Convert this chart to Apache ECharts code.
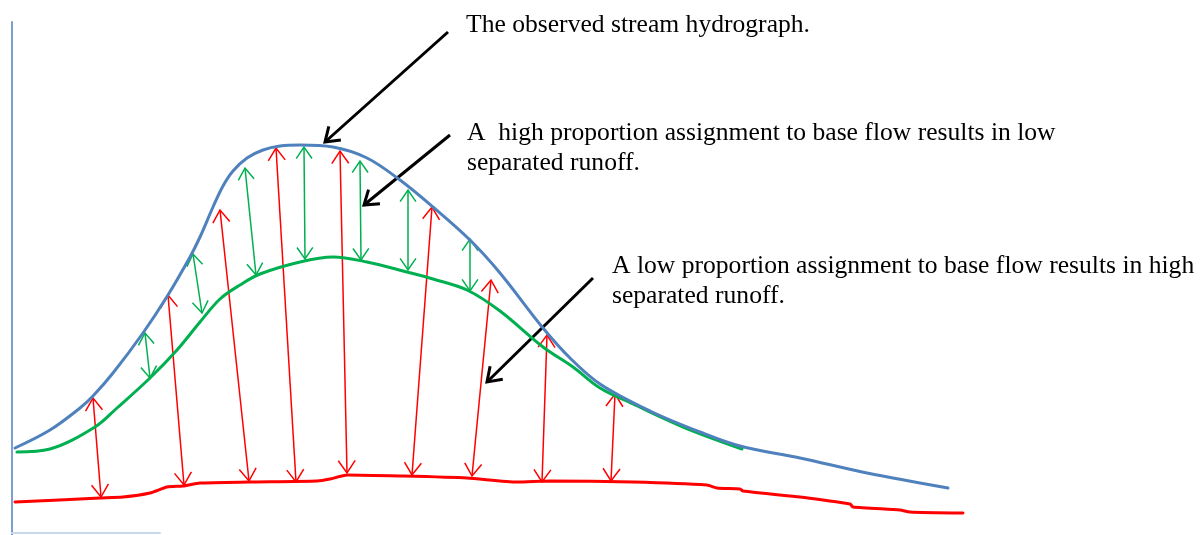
<!DOCTYPE html>
<html>
<head>
<meta charset="utf-8">
<script src="https://cdn.jsdelivr.net/npm/echarts@6/dist/echarts.min.js"></script>
<style>
  html, body { margin: 0; padding: 0; background: #fff; }
  #chart { width: 1202px; height: 535px; }
</style>
</head>
<body>
<div id="chart"></div>
<script>
// sketch coordinates (x to the right, y downwards, in the drawing's own units)
const observed = [
  [15, 448], [50, 430], [80, 408], [93, 396], [113, 373], [143, 333], [168, 295], [190, 257],
  [200, 237], [213, 207], [223, 186], [233, 171], [247, 158], [263, 150], [280, 146], [300, 145],
  [333, 147], [367, 158], [400, 180], [433, 207], [470, 240], [500, 273], [543, 328], [570, 358],
  [600, 384], [650, 411], [700, 432], [740, 446], [800, 458], [867, 473], [948, 488]
];
const lowBase = [
  [17, 452], [50, 449], [95, 427], [117, 408], [150, 378], [177, 350], [200, 322], [220, 299],
  [240, 285], [260, 274], [300, 262], [333, 257], [367, 262], [407, 272], [433, 279], [467, 290],
  [500, 311], [543, 347], [573, 367], [600, 388], [633, 404], [683, 427], [742, 449]
];
const highBase = [
  [15, 502], [100, 498], [123, 497], [150, 493], [167, 487], [183, 486], [200, 483], [250, 482],
  [317, 481], [330, 479], [347, 475], [400, 476], [467, 478], [517, 482], [550, 481], [633, 482],
  [707, 485], [717, 488], [740, 489], [743, 491], [800, 497], [823, 500], [850, 504], [853, 507],
  [900, 510], [910, 512], [963, 513]
];
// double arrows: [xBottom, yBottom, xTop, yTop]
const runoffArrows = [
  [101, 497, 93, 398], [184, 485, 168, 295], [249, 481, 220, 210], [296, 482, 276, 148],
  [347, 473, 340, 151], [412, 475, 432, 207], [472, 476, 491, 280], [542, 482, 547, 335],
  [611, 481, 615, 394]
];
const smallArrows = [
  [150, 378, 145, 333], [202, 313, 193, 254], [256, 275, 245, 168], [305, 259, 304, 147],
  [361, 260, 360, 161], [408, 270, 408, 190], [470, 291, 470, 239]
];
// pointer arrows: [xStart, yStart, xTip, yTip]
const pointers = [[448, 32, 325, 142], [450, 135, 364, 205], [593, 278, 487, 382]];
const frame = [[12, 22], [12, 535]];
const floorLine = [[12, 533], [160, 533]];

const notes = [
  { x: 466, y: 10, text: 'The observed stream hydrograph.' },
  { x: 467, y: 118, text: 'A  high proportion assignment to base flow results in low\nseparated runoff.' },
  { x: 612, y: 251, text: 'A low proportion assignment to base flow results in high\nseparated runoff.' }
];

function headPoints(tip, from, len, ang) {
  const dx = from[0] - tip[0], dy = from[1] - tip[1];
  const d = Math.hypot(dx, dy);
  const ux = dx / d, uy = dy / d;
  const rot = a => [tip[0] + len * (ux * Math.cos(a) - uy * Math.sin(a)),
                    tip[1] + len * (ux * Math.sin(a) + uy * Math.cos(a))];
  return [rot(ang), tip, rot(-ang)];
}

function arrowSeries(data, color, width, len, both) {
  return {
    type: 'custom',
    silent: true,
    encode: { x: [0, 2], y: [1, 3] },
    data,
    renderItem: (params, api) => {
      const a = api.coord([api.value(0), api.value(1)]);
      const b = api.coord([api.value(2), api.value(3)]);
      const style = { stroke: color, lineWidth: width, fill: null, lineJoin: 'miter' };
      const children = [
        { type: 'line', shape: { x1: a[0], y1: a[1], x2: b[0], y2: b[1] }, style },
        { type: 'polyline', shape: { points: headPoints(b, a, len, 0.6) }, style }
      ];
      if (both) children.push({ type: 'polyline', shape: { points: headPoints(a, b, len, 0.6) }, style });
      return { type: 'group', children };
    }
  };
}

function curve(data, color, width, smooth) {
  return {
    type: 'line', data, smooth, showSymbol: false, silent: true,
    lineStyle: { color, width, cap: 'round' }
  };
}

const chart = echarts.init(document.getElementById('chart'), null, { renderer: 'canvas' });
chart.setOption({
  backgroundColor: '#ffffff',
  animation: false,
  grid: { left: 0, right: 0, top: 0, bottom: 0 },
  xAxis: { type: 'value', min: 0, max: 1202, show: false },
  yAxis: { type: 'value', min: 0, max: 535, inverse: true, show: false },
  series: [
    curve(frame, '#7a9fd0', 2, false),
    curve(floorLine, '#c9d8ec', 2, false),
    arrowSeries(runoffArrows, '#ff0000', 1.5, 15, true),
    arrowSeries(smallArrows, '#00b050', 1.5, 14, true),
    curve(highBase, '#ff0000', 3, 0.2),
    curve(lowBase, '#00b050', 3, 0.35),
    curve(observed, '#4f81bd', 3, 0.35),
    arrowSeries(pointers, '#000000', 3, 16, false)
  ],
  graphic: notes.map(n => ({
    type: 'text', left: n.x, top: n.y, silent: true,
    style: { text: n.text, fill: '#000', font: '25.6px "Liberation Serif"', lineHeight: 30 }
  }))
});
</script>
</body>
</html>
